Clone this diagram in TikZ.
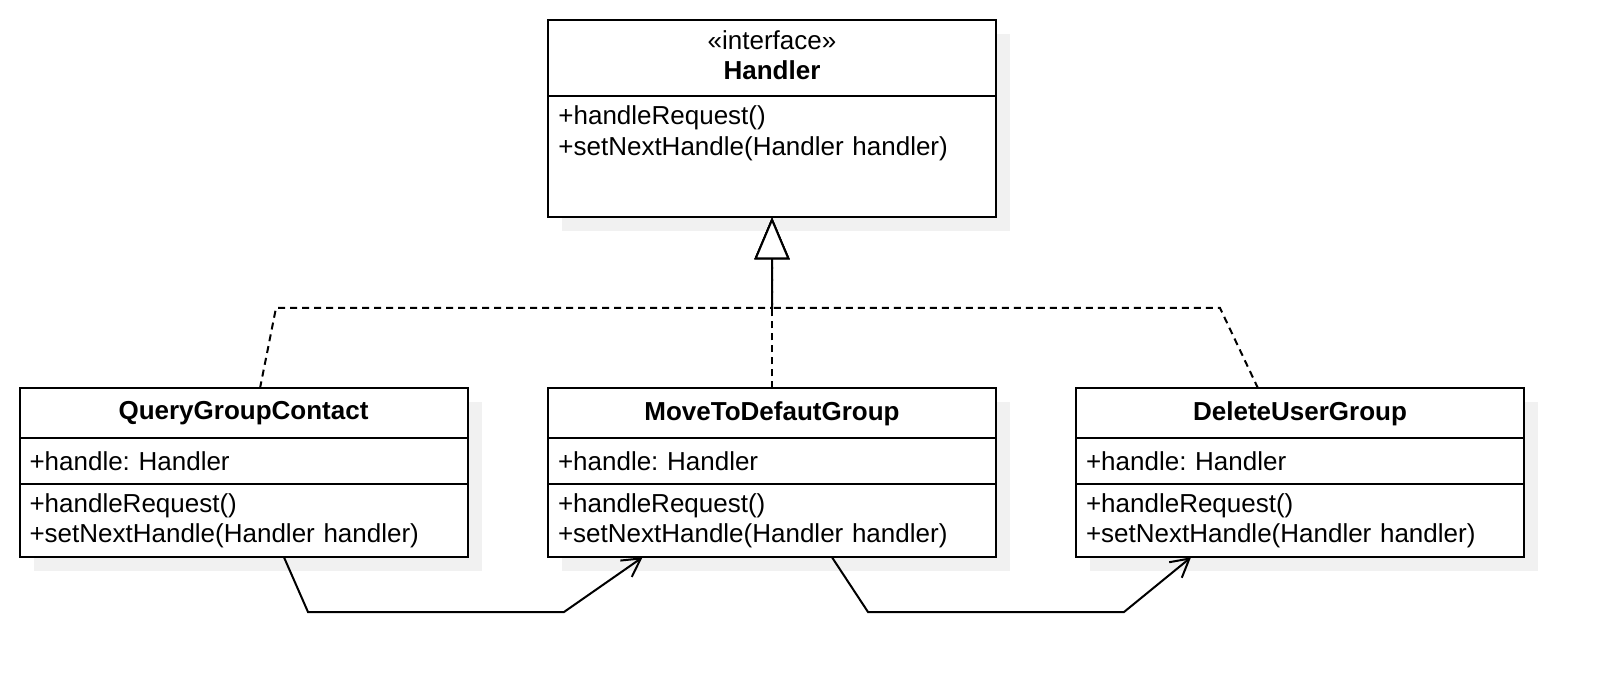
\documentclass[tikz,border=0pt]{standalone}
\usepackage{fontspec}
\setmainfont{Liberation Sans}
\usetikzlibrary{arrows.meta,shadows}
\definecolor{shadowgray}{RGB}{241,241,241}
\frenchspacing

\begin{document}
\begin{tikzpicture}[x=0.5pt,y=-0.5pt,
  box/.style={draw,line width=1pt,fill=white,minimum width=224pt,inner sep=0pt,outer sep=0pt,
    drop shadow={shadow xshift=7pt,shadow yshift=-7pt,fill=shadowgray,opacity=1},
    font=\fontsize{13}{15.4}\selectfont},
  head/.style={box,align=center},
  part/.style={box,text width=214pt,align=left},
  lines/.style={inner sep=0pt,text width=214pt,align=left,font=\fontsize{13}{15.4}\selectfont},
  realize/.style={line width=1pt,dash pattern=on 3.5pt off 2.5pt,
    -{Triangle[open,fill=white,length=21pt,width=17.5pt]}},
  link/.style={line width=1pt,-{Straight Barb[length=9pt,width=10pt]}}]
\useasboundingbox (0,0) rectangle (1604,694);

% Interface (Handler)
\node[head,minimum height=37.85pt] (handler) at (772,57.85) {«interface»\\[-0.6pt]\textbf{Handler}\rule[-2.6pt]{0pt}{2.6pt}};
\node[box,minimum height=60.8pt,anchor=north] (handler-ops) at (handler.south) {};
\node[lines,anchor=north west] (handler-txt) at ([xshift=5pt,yshift=-5pt]handler-ops.north west) {+handleRequest()\\+setNextHandle(Handler handler)};

% Concrete handlers
\node[head,minimum height=25pt] (qgc) at (243.5,413.3) {\textbf{QueryGroupContact}};
\node[part,minimum height=23pt,anchor=north] (qgc-attr) at (qgc.south) {+handle: Handler};
\node[part,minimum height=36.5pt,anchor=north] (qgc-ops) at (qgc-attr.south) {+handleRequest()\\+setNextHandle(Handler handler)};

\node[head,minimum height=25pt] (mtdg) at (772,413.3) {\textbf{MoveToDefautGroup}};
\node[part,minimum height=23pt,anchor=north] (mtdg-attr) at (mtdg.south) {+handle: Handler};
\node[part,minimum height=36.5pt,anchor=north] (mtdg-ops) at (mtdg-attr.south) {+handleRequest()\\+setNextHandle(Handler handler)};

\node[head,minimum height=25pt] (dug) at (1300,413.3) {\textbf{DeleteUserGroup}};
\node[part,minimum height=23pt,anchor=north] (dug-attr) at (dug.south) {+handle: Handler};
\node[part,minimum height=36.5pt,anchor=north] (dug-ops) at (dug-attr.south) {+handleRequest()\\+setNextHandle(Handler handler)};

% Bend points
\coordinate (bendL) at (276,308);
\coordinate (join) at (772,308);
\coordinate (bendR) at (1220,308);
\coordinate (loopA1) at (308,612);
\coordinate (loopA2) at (564,612);
\coordinate (loopB1) at (868,612);
\coordinate (loopB2) at (1124,612);

% Realization (dashed)
\draw[realize] ([xshift=8.25pt]qgc.north) -- (bendL) -- (join) -- (handler-ops.south);
\draw[realize] (mtdg.north) -- (handler-ops.south);
\draw[realize] ([xshift=-21pt]dug.north) -- (bendR) -- (join) -- (handler-ops.south);

% Chain links
\draw[link] ([xshift=20.25pt]qgc-ops.south) -- (loopA1) -- (loopA2) -- ([xshift=-64.75pt]mtdg-ops.south);
\draw[link] ([xshift=30pt]mtdg-ops.south) -- (loopB1) -- (loopB2) -- ([xshift=-54.5pt]dug-ops.south);

\end{tikzpicture}
\end{document}
